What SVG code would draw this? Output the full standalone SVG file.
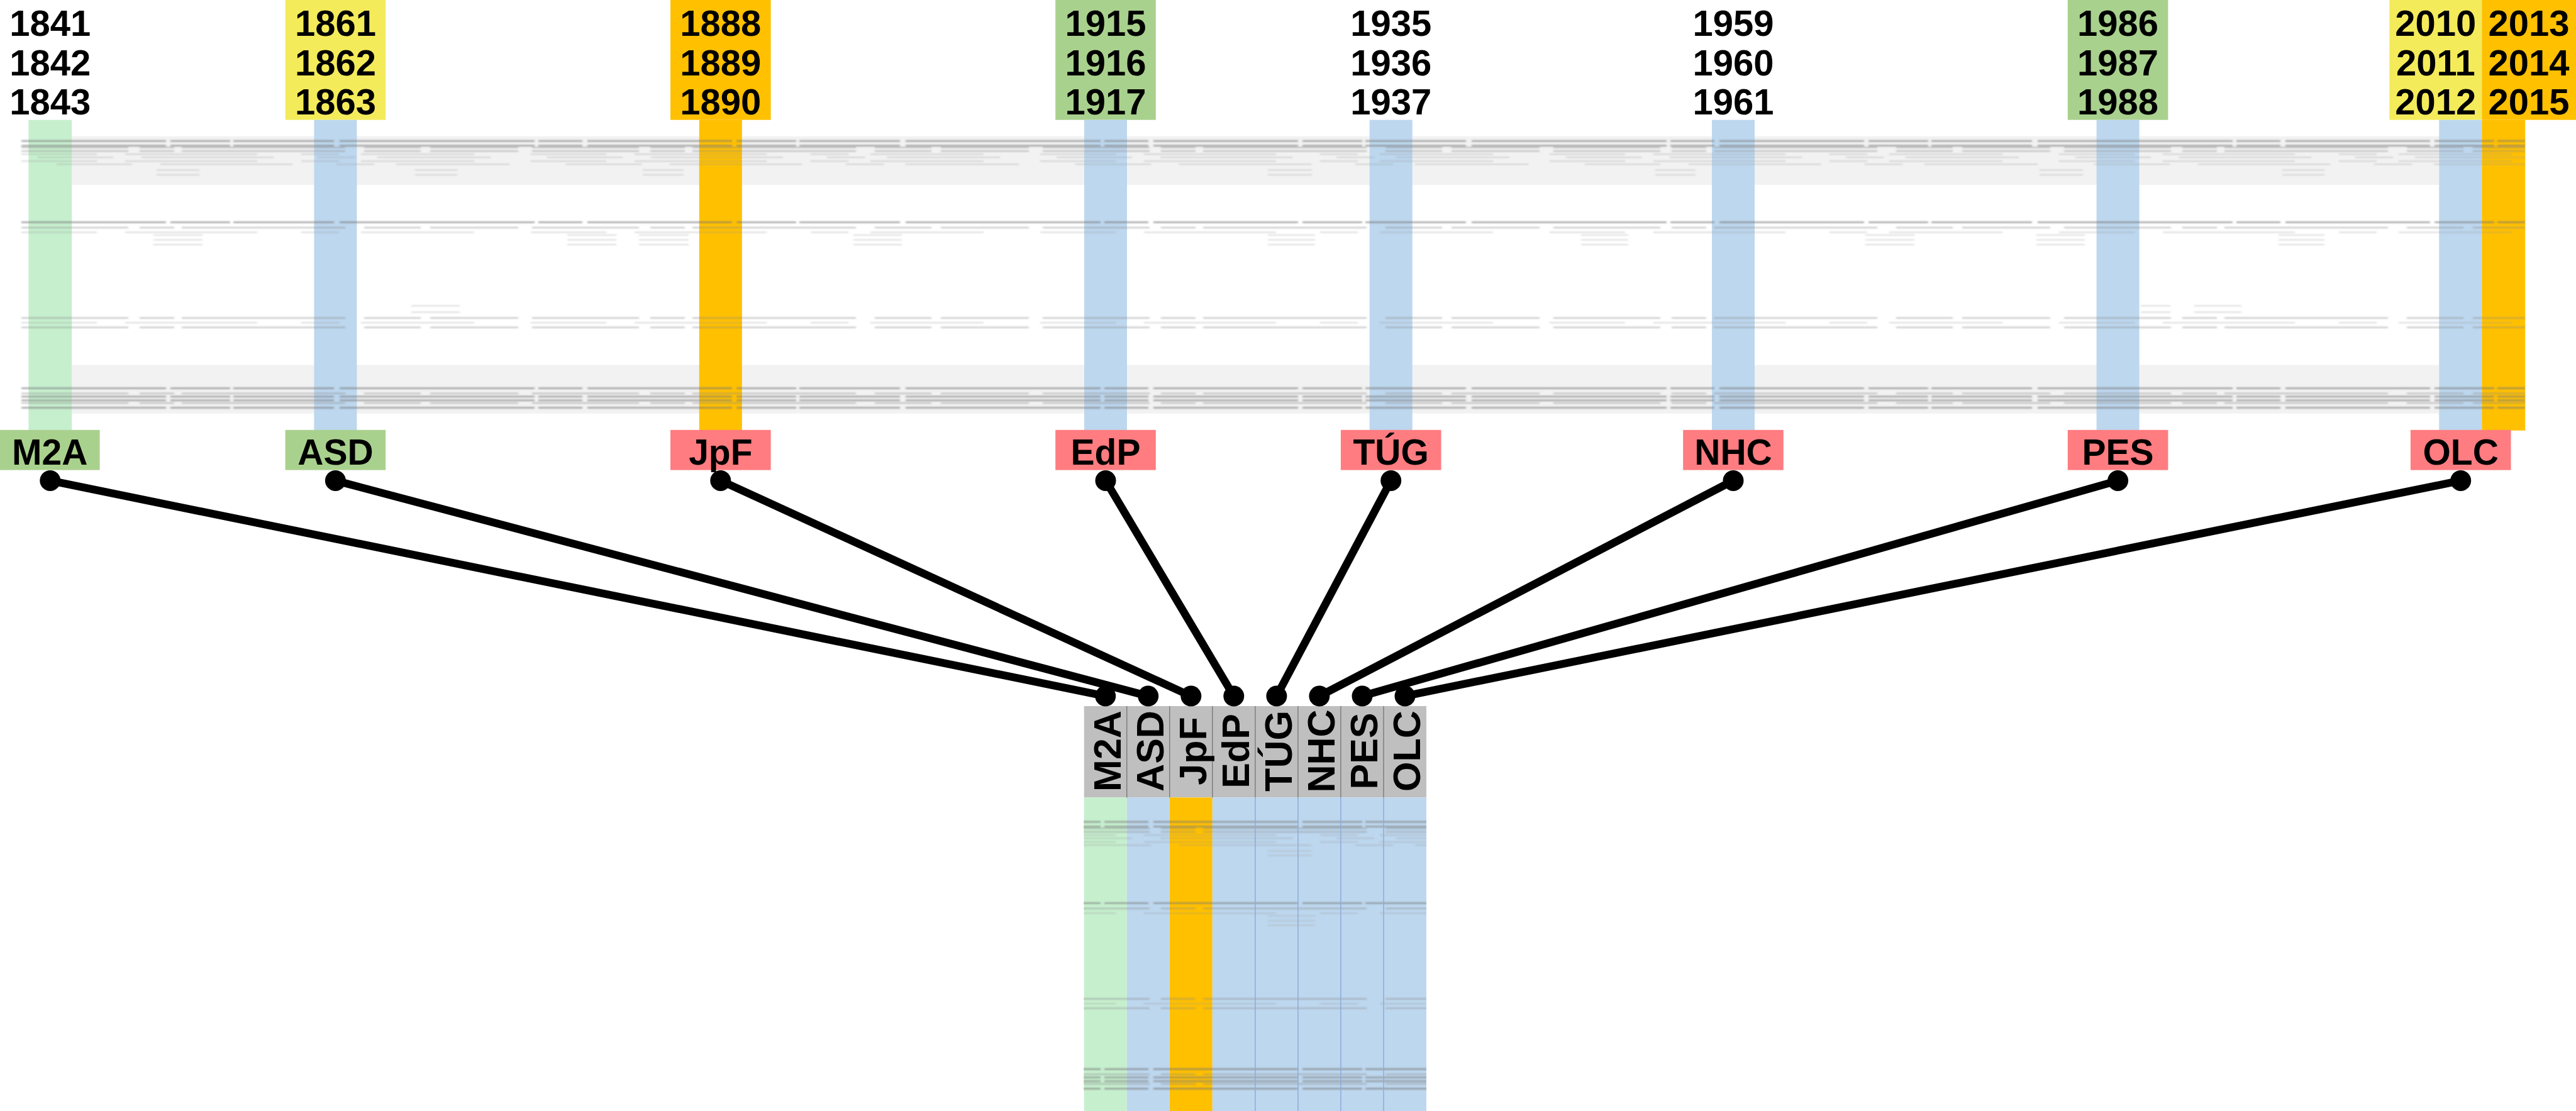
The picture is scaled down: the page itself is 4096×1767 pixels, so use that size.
<svg xmlns="http://www.w3.org/2000/svg" width="4096" height="1767" viewBox="0 0 4096 1767">
<defs>
<style>
text{font-family:"Liberation Sans",Arial,sans-serif;font-weight:bold;fill:#000}
.yr{font-size:58px;text-anchor:middle}
.lb{font-size:57px;text-anchor:middle}
.hd{font-size:61px;text-anchor:middle}
.yel{fill:#f4eb5b}.org{fill:#ffc000}.grn{fill:#a9d18e}.lgr{fill:#c6efce}.blu{fill:#bdd7ee}.red{fill:#ff7c80}.band{fill:#f2f2f2}.hdr{fill:#bfbfbf}
.conn{stroke:#000;stroke-width:12.5;fill:none;marker-start:url(#dot);marker-end:url(#dot)}
.ra{stroke:#7a7a7a;stroke-width:3;opacity:.55;stroke-dasharray:230 7 95 5 160 9 310 6 70 8}
.rb{stroke:#8a8a8a;stroke-width:2.5;opacity:.42;stroke-dasharray:170 18 55 12 260 30 90 15 140 22}
.rc{stroke:#999;stroke-width:2;opacity:.35;stroke-dasharray:120 45 210 70 60 35 180 90}
.rd{stroke:#aaa;stroke-width:2;opacity:.4}
.hsep{stroke:#7f7f7f;stroke-width:1.5}
.bsep{stroke:#8eaadb;stroke-width:1.5}
</style>
<marker id="dot" markerUnits="userSpaceOnUse" markerWidth="40" markerHeight="40" refX="20" refY="20" viewBox="0 0 40 40"><circle cx="20" cy="20" r="16.5" fill="#000"/></marker>
<filter id="soft" x="-0.01" y="-0.2" width="1.02" height="1.4"><feGaussianBlur stdDeviation="1.6 0.9"/></filter>
<clipPath id="bodyclip"><rect x="1723.7" y="1268.4" width="544.3" height="498.6"/></clipPath>
<g id="rows">
<line class="ra" x1="34" y1="224.3" x2="4015" y2="224.3"/>
<line class="ra" x1="34" y1="231.8" x2="4015" y2="231.8"/>
<line class="rb" x1="34" y1="234.6" x2="4015" y2="234.6"/>
<line class="rb" x1="34" y1="240.2" x2="4015" y2="240.2"/>
<line class="rc" x1="34" y1="245.3" x2="4015" y2="245.3"/>
<line class="rc" x1="60" y1="250.3" x2="4015" y2="250.3"/>
<line class="rc" x1="34" y1="256.2" x2="4015" y2="256.2"/>
<line class="rc" x1="90" y1="261.2" x2="4015" y2="261.2"/>
<path class="rd" d="M249 270.5H317M660 270.5H727M1022 270.5H1087M2016 270.5H2086M2632 270.5H2696M3243 270.5H3312M3629 270.5H3696M249 278H317M660 278H727M1022 278H1087M2016 278H2086M2632 278H2696M3243 278H3312M3629 278H3696"/>
<line class="ra" x1="34" y1="353.6" x2="4015" y2="353.6"/>
<line class="rb" x1="34" y1="362" x2="4015" y2="362"/>
<line class="rc" x1="34" y1="369.6" x2="4015" y2="369.6"/>
<path class="rd" d="M244 373.8H322M902 373.8H980M1016 373.8H1095M1357 373.8H1434M2016 373.8H2091M2514 373.8H2589M2966 373.8H3044M3238 373.8H3315M3623 373.8H3696M244 381.4H322M902 381.4H980M1016 381.4H1095M1357 381.4H1434M2016 381.4H2091M2514 381.4H2589M2966 381.4H3044M3238 381.4H3315M3623 381.4H3696M244 389H322M902 389H980M1016 389H1095M1357 389H1434M2016 389H2091M2514 389H2589M2966 389H3044M3238 389H3315M3623 389H3696"/>
<path class="rd" d="M654 486.4H731M3404 486.4H3451M3489 486.4H3564M654 496.4H731M3404 496.4H3451M3489 496.4H3564"/>
<line class="rb" x1="34" y1="505.7" x2="4015" y2="505.7"/>
<line class="rc" x1="34" y1="513.2" x2="4015" y2="513.2"/>
<line class="rb" x1="34" y1="520.8" x2="4015" y2="520.8"/>
<line class="ra" x1="34" y1="617.4" x2="4015" y2="617.4"/>
<line class="rb" x1="34" y1="625.8" x2="4015" y2="625.8"/>
<line class="ra" x1="34" y1="630.8" x2="4015" y2="630.8"/>
<line class="ra" x1="34" y1="636.7" x2="4015" y2="636.7"/>
<line class="rb" x1="34" y1="641" x2="4015" y2="641"/>
<line class="ra" x1="34" y1="648.5" x2="4015" y2="648.5"/>
</g>
</defs>
<rect width="4096" height="1767" fill="#fff"/>

<g id="bands">
<rect class="band" x="114.2" y="216.7" width="3764.1" height="77.3"/>
<rect class="band" x="114.2" y="580.4" width="3764.1" height="77.3"/>
</g>

<g id="node-M2A">
<text class="yr" x="79.8" y="57.1">1841</text>
<text class="yr" x="79.8" y="120.1">1842</text>
<text class="yr" x="79.8" y="182.3">1843</text>
<rect class="lgr" x="45.4" y="190.7" width="68.8" height="494"/>
</g>
<g id="node-ASD">
<rect class="yel" x="453.6" y="0" width="159.6" height="190.7"/>
<text class="yr" x="533.4" y="57.1">1861</text>
<text class="yr" x="533.4" y="120.1">1862</text>
<text class="yr" x="533.4" y="182.3">1863</text>
<rect class="blu" x="499.4" y="190.7" width="68" height="494"/>
</g>
<g id="node-JpF">
<rect class="org" x="1066" y="0" width="159.6" height="190.7"/>
<text class="yr" x="1145.8" y="57.1">1888</text>
<text class="yr" x="1145.8" y="120.1">1889</text>
<text class="yr" x="1145.8" y="182.3">1890</text>
<rect class="org" x="1111.8" y="190.7" width="68" height="494"/>
</g>
<g id="node-EdP">
<rect class="grn" x="1678.2" y="0" width="159.6" height="190.7"/>
<text class="yr" x="1758" y="57.1">1915</text>
<text class="yr" x="1758" y="120.1">1916</text>
<text class="yr" x="1758" y="182.3">1917</text>
<rect class="blu" x="1724" y="190.7" width="68" height="494"/>
</g>
<g id="node-TUG">
<text class="yr" x="2211.7" y="57.1">1935</text>
<text class="yr" x="2211.7" y="120.1">1936</text>
<text class="yr" x="2211.7" y="182.3">1937</text>
<rect class="blu" x="2177.7" y="190.7" width="68" height="494"/>
</g>
<g id="node-NHC">
<text class="yr" x="2756" y="57.1">1959</text>
<text class="yr" x="2756" y="120.1">1960</text>
<text class="yr" x="2756" y="182.3">1961</text>
<rect class="blu" x="2722" y="190.7" width="68" height="494"/>
</g>
<g id="node-PES">
<rect class="grn" x="3287.8" y="0" width="159.6" height="190.7"/>
<text class="yr" x="3367.6" y="57.1">1986</text>
<text class="yr" x="3367.6" y="120.1">1987</text>
<text class="yr" x="3367.6" y="182.3">1988</text>
<rect class="blu" x="3333.6" y="190.7" width="68" height="494"/>
</g>
<g id="node-OLC">
<rect class="yel" x="3799.3" y="0" width="147" height="190.7"/>
<rect class="org" x="3946.3" y="0" width="149.7" height="190.7"/>
<text class="yr" x="3872.8" y="57.1">2010</text>
<text class="yr" x="3872.8" y="120.1">2011</text>
<text class="yr" x="3872.8" y="182.3">2012</text>
<text class="yr" x="4021" y="57.1">2013</text>
<text class="yr" x="4021" y="120.1">2014</text>
<text class="yr" x="4021" y="182.3">2015</text>
<rect class="blu" x="3878.3" y="190.7" width="68" height="494"/>
<rect class="org" x="3946.3" y="190.7" width="68.9" height="494"/>
</g>

<use href="#rows" filter="url(#soft)"/>

<g id="labels">
<g id="label-M2A"><rect class="grn" x="0" y="683.8" width="158.6" height="63.8"/><text class="lb" x="79.3" y="739.2">M2A</text></g>
<g id="label-ASD"><rect class="grn" x="453.6" y="683.8" width="159.6" height="63.8"/><text class="lb" x="533.4" y="739.2">ASD</text></g>
<g id="label-JpF"><rect class="red" x="1066" y="683.8" width="159.6" height="63.8"/><text class="lb" x="1145.8" y="739.2">JpF</text></g>
<g id="label-EdP"><rect class="red" x="1678.2" y="683.8" width="159.6" height="63.8"/><text class="lb" x="1758" y="739.2">EdP</text></g>
<g id="label-TUG"><rect class="red" x="2131.9" y="683.8" width="159.6" height="63.8"/><text class="lb" x="2211.7" y="739.2">TÚG</text></g>
<g id="label-NHC"><rect class="red" x="2676.2" y="683.8" width="159.6" height="63.8"/><text class="lb" x="2756" y="739.2">NHC</text></g>
<g id="label-PES"><rect class="red" x="3287.8" y="683.8" width="159.6" height="63.8"/><text class="lb" x="3367.6" y="739.2">PES</text></g>
<g id="label-OLC"><rect class="red" x="3832.9" y="683.8" width="159.6" height="63.8"/><text class="lb" x="3912.7" y="739.2">OLC</text></g>
</g>

<g id="table">
<rect class="hdr" x="1723.7" y="1123" width="544.3" height="145.4"/>
<rect class="lgr" x="1723.7" y="1268.4" width="68" height="498.6"/>
<rect class="blu" x="1791.7" y="1268.4" width="68.1" height="498.6"/>
<rect class="org" x="1859.8" y="1268.4" width="68" height="498.6"/>
<rect class="blu" x="1927.8" y="1268.4" width="340.2" height="498.6"/>
<g clip-path="url(#bodyclip)"><g transform="translate(0,1082.8)"><use href="#rows" filter="url(#soft)"/></g></g>
<path class="hsep" d="M1791.7 1123V1268.4M1859.8 1123V1268.4M1927.8 1123V1268.4M1995.9 1123V1268.4M2063.9 1123V1268.4M2131.9 1123V1268.4M2200 1123V1268.4"/>
<path class="bsep" d="M1995.9 1268.4V1767M2063.9 1268.4V1767M2131.9 1268.4V1767M2200 1268.4V1767"/>
<g id="col-M2A"><text class="hd" transform="translate(1781.7,1194.5) rotate(-90)">M2A</text></g>
<g id="col-ASD"><text class="hd" transform="translate(1849.7,1194.5) rotate(-90)">ASD</text></g>
<g id="col-JpF"><text class="hd" transform="translate(1917.8,1194.5) rotate(-90)">JpF</text></g>
<g id="col-EdP"><text class="hd" transform="translate(1985.8,1194.5) rotate(-90)">EdP</text></g>
<g id="col-TUG"><text class="hd" transform="translate(2053.9,1194.5) rotate(-90)">TÚG</text></g>
<g id="col-NHC"><text class="hd" transform="translate(2121.9,1194.5) rotate(-90)">NHC</text></g>
<g id="col-PES"><text class="hd" transform="translate(2190,1194.5) rotate(-90)">PES</text></g>
<g id="col-OLC"><text class="hd" transform="translate(2258,1194.5) rotate(-90)">OLC</text></g>
</g>

<g id="connectors">
<path class="conn" d="M79.8 764.4L1757.7 1107.1"/>
<path class="conn" d="M533.4 764.4L1825.7 1107.1"/>
<path class="conn" d="M1145.8 764.4L1893.8 1107.1"/>
<path class="conn" d="M1758 764.4L1961.8 1107.1"/>
<path class="conn" d="M2211.7 764.4L2029.9 1107.1"/>
<path class="conn" d="M2756 764.4L2097.9 1107.1"/>
<path class="conn" d="M3367.6 764.4L2166 1107.1"/>
<path class="conn" d="M3912.7 764.4L2234 1107.1"/>
</g>
</svg>
